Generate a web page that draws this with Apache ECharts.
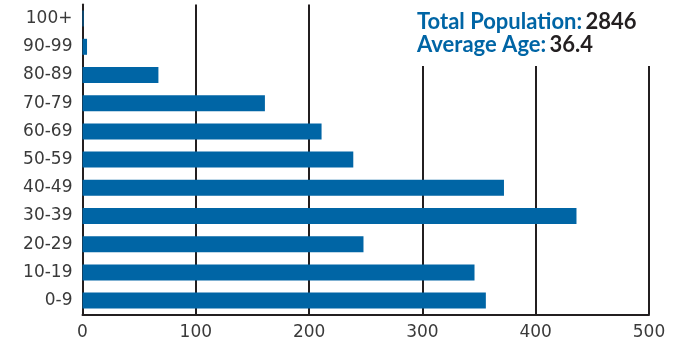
<!DOCTYPE html>
<html>
<head>
<meta charset="utf-8">
<script src="https://cdn.jsdelivr.net/npm/echarts@6/dist/echarts.min.js"></script>
<style>
  html, body { margin: 0; padding: 0; background: #fff; }
  #chart { width: 681px; height: 346px; }
</style>
</head>
<body>
<div id="chart"></div>
<script>
// Age groups, bottom to top on the category axis
const ageGroups = ['0-9', '10-19', '20-29', '30-39', '40-49', '50-59', '60-69', '70-79', '80-89', '90-99', '100+'];
// Number of people in each age group
const population = [356, 346, 248, 436, 372, 239, 211, 161, 67, 4, 1];
// Value axis range and step
const axisMax = 500;
const axisStep = 100;
// Summary figures shown in the corner
const totalPopulation = 2846;
const averageAge = 36.4;

const ink = '#231f20';
const barBlue = '#0065a5';
const labelFont = "'DejaVu Sans'";
const headFont = "Lato, sans-serif";

const chart = echarts.init(document.getElementById('chart'), null, { renderer: 'canvas' });

chart.setOption({
  animation: false,
  backgroundColor: '#ffffff',
  grid: { left: 82.5, right: 32, top: 4.5, bottom: 31.3, containLabel: false },
  xAxis: {
    type: 'value',
    min: 0,
    max: axisMax,
    interval: axisStep,
    axisLine: { show: true, lineStyle: { color: ink, width: 2 } },
    axisTick: { show: false },
    axisLabel: {
      color: '#3a3a3a',
      fontFamily: labelFont,
      fontSize: 17,
      margin: 9
    },
    splitLine: { show: true, lineStyle: { color: ink, width: 2 } }
  },
  yAxis: {
    type: 'category',
    data: ageGroups,
    axisLine: { show: true, onZero: false, lineStyle: { color: ink, width: 2 } },
    axisTick: { show: false },
    axisLabel: {
      color: '#3a3a3a',
      fontFamily: labelFont,
      fontSize: 17,
      margin: 10
    }
  },
  series: [{
    type: 'bar',
    data: population,
    barWidth: 16,
    itemStyle: { color: barBlue },
    z: 3
  }],
  graphic: [
    {
      type: 'rect',
      z: 100,
      shape: { x: 400, y: 0, width: 281, height: 66 },
      style: { fill: '#ffffff' }
    },
    {
      type: 'text',
      z: 101,
      left: 417,
      top: 11,
      style: {
        text: '{b|Total Population:} {d|' + totalPopulation + '}\n{b|Average Age:} {d|' + averageAge + '}',
        rich: {
          b: { fill: barBlue, fontFamily: headFont, fontWeight: 'bold', fontSize: 22, lineHeight: 23 },
          d: { fill: ink, fontFamily: headFont, fontWeight: 'bold', fontSize: 22, lineHeight: 23 }
        }
      }
    }
  ]
});
</script>
</body>
</html>
